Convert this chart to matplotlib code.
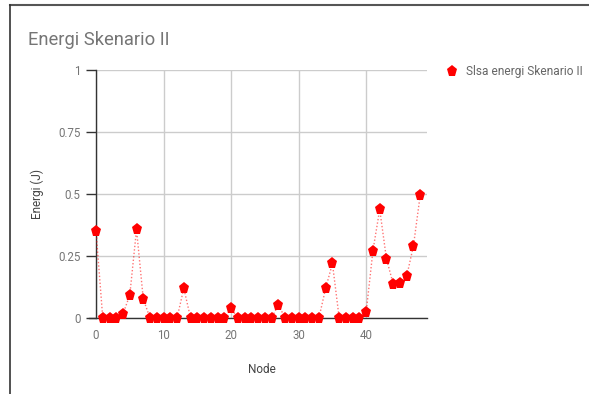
import matplotlib
matplotlib.use("Agg")
import matplotlib.pyplot as plt
from matplotlib.lines import Line2D

plt.rcParams['font.family'] = ['Roboto', 'DejaVu Sans']

title = "Energi Skenario II"
series_name = "Slsa energi Skenario II"
x_label = "Node"
y_label = "Energi (J)"

nodes = list(range(49))
energy = [
    0.352, 0, 0, 0, 0.017, 0.092, 0.357, 0.076, 0, 0,
    0, 0, 0, 0.12, 0, 0, 0, 0, 0, 0,
    0.039, 0, 0, 0, 0, 0, 0, 0.053, 0, 0,
    0, 0, 0, 0, 0.12, 0.22, 0, 0, 0, 0,
    0.024, 0.272, 0.438, 0.238, 0.137, 0.141, 0.169, 0.292, 0.497,
]
x_ticks = [0, 10, 20, 30, 40]
y_ticks = [0, 0.25, 0.5, 0.75, 1]
y_tick_labels = ["0", "0.25", "0.5", "0.75", "1"]

W, H = 589, 394
fig = plt.figure(figsize=(W / 100, H / 100), dpi=100)
ax = fig.add_axes([96 / W, 1 - 318 / H, (427 - 96) / W, (318 - 70) / H])

red = "#ff0000"
ax.plot(nodes, energy, linestyle=(0, (1, 1.5)), color=red, alpha=0.55,
        linewidth=1.0, zorder=3)
ax.plot(nodes, energy, linestyle="none", marker="p", markersize=8.2,
        color=red, markeredgewidth=0, zorder=4, clip_on=False)

ax.set_xlim(0, 49)
ax.set_ylim(0, 1)
ax.set_xticks(x_ticks)
ax.set_yticks(y_ticks)
ax.set_yticklabels(y_tick_labels)

grid_c = "#cccccc"
ax.grid(True, color=grid_c, linewidth=1)
ax.set_axisbelow(True)
for s in ["top", "right"]:
    ax.spines[s].set_visible(False)
ax.spines["left"].set_color("#333333")
ax.spines["bottom"].set_color("#333333")
ax.spines["left"].set_linewidth(1)
ax.spines["bottom"].set_linewidth(1)
ax.spines["bottom"].set_bounds(-1.05, 49)

tick_c = "#757575"
ax.tick_params(axis="y", length=7, width=1, color="#333333", pad=4,
               labelsize=8.3, labelcolor=tick_c)
ax.tick_params(axis="x", length=0, pad=8, labelsize=8.3, labelcolor=tick_c)

ax.set_xlabel(x_label, fontsize=8.5, color="#444444", labelpad=15)
ax.set_ylabel(y_label, fontsize=8.5, color="#444444", labelpad=10)

fig.text(28 / W, 1 - 40 / H, title, fontsize=13.2, color="#757575",
         ha="left", va="center")

# legend entry on the right
fig.add_artist(Line2D([452 / W], [1 - 71 / H], marker="p", markersize=8.2,
                      color=red, markeredgewidth=0, linestyle="none",
                      transform=fig.transFigure))
fig.text(466 / W, 1 - 71 / H, series_name, fontsize=8.6, color="#666666",
         ha="left", va="center")

# frame lines at top and left
fig.add_artist(Line2D([9.5 / W, 1], [1 - 4.5 / H, 1 - 4.5 / H], color="#555555",
                      linewidth=1.5, transform=fig.transFigure))
fig.add_artist(Line2D([9.5 / W, 9.5 / W], [0, 1 - 4.5 / H], color="#333333",
                      linewidth=1.2, transform=fig.transFigure))

fig.savefig("out.png", dpi=100, facecolor="white")
